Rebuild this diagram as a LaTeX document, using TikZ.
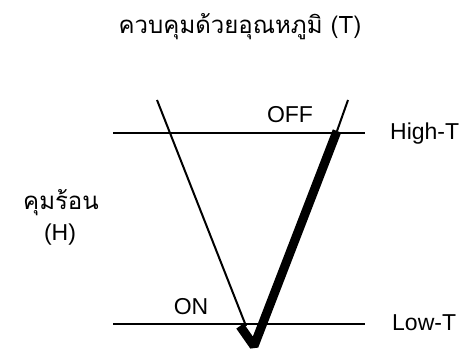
\documentclass[tikz,border=0pt]{standalone}
\usepackage{fontspec}
\setmainfont{Liberation Sans}
\newfontfamily\thaifont[Script=Thai]{Loma}
\begin{document}
\begin{tikzpicture}[x=1pt,y=-1pt,
  lbl/.style={font=\fontsize{23}{26}\selectfont, inner sep=0pt},
  thlbl/.style={font=\thaifont\fontsize{24}{28}\selectfont, inner sep=0pt},
  thin/.style={line width=2pt},
  thick/.style={line width=9pt, line join=bevel, line cap=butt}]
\useasboundingbox (0,0) rectangle (473,355);
% levels
\coordinate (h1) at (113,133);
\coordinate (h2) at (365,133);
\coordinate (l1) at (113,324);
\coordinate (l2) at (365,324);
\draw[thin] (h1) -- (h2);
\draw[thin] (l1) -- (l2);
% thin left line
\coordinate (ta) at (157,100);
\coordinate (tb) at (246,326);
\draw[thin] (ta) -- (tb);
% thin right top
\coordinate (ra) at (348,100);
\coordinate (rb) at (337,131);
\draw[thin] (ra) -- (rb);
% thick V
\coordinate (va) at (240,326);
\coordinate (vb) at (254,346);
\coordinate (vc) at (337,131);
\draw[thick] (va) -- (vb) -- (vc);
% labels
\node[thlbl] (title) at (240,27) {ควบคุมด้วยอุณหภูมิ (T)};
\node[lbl] (off) at (290,115) {OFF};
\node[lbl] (on) at (191,307) {ON};
\node[lbl, anchor=west] (high) at (390,134) {High-T};
\node[lbl, anchor=west] (low) at (392,323) {Low-T};
\node[thlbl] (hot) at (61,203) {คุมร้อน};
\node[lbl] (hh) at (60,235) {(H)};
\end{tikzpicture}
\end{document}
